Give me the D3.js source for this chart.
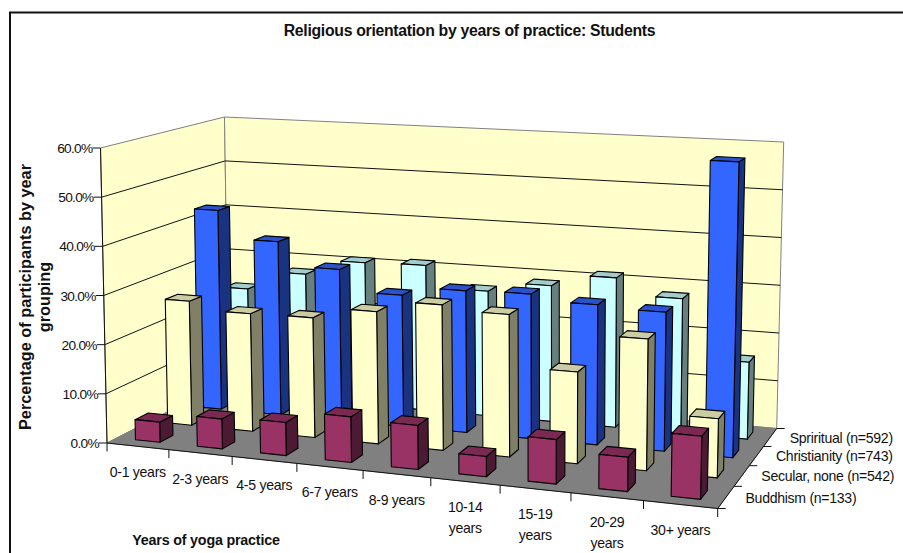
<!DOCTYPE html>
<html>
<head>
<meta charset="utf-8">
<script src="https://cdn.jsdelivr.net/npm/d3@7"></script>
<style>
	html,body{margin:0;padding:0;background:#fff;overflow:hidden}
	text{font-family:"Liberation Sans",Arial,sans-serif;fill:#111}
</style>
</head>
<body>
<div id="chart"></div>
<script>
var categories = [["0-1 years"],["2-3 years"],["4-5 years"],["6-7 years"],["8-9 years"],["10-14","years"],["15-19","years"],["20-29","years"],["30+ years"]]
var seriesNames = ["Buddhism (n=133)","Secular, none (n=542)","Christianity (n=743)","Spriritual (n=592)"]
var buddhism = [4.1,6.0,6.6,9.0,8.6,3.9,8.5,6.5,11.8]
var secular = [26.0,24.4,24.6,26.9,29.3,28.4,18.1,25.7,11.4]
var christianity = [42.9,37.0,32.0,27.5,29.4,29.7,28.5,28.0,59.0]
var spiritual = [23.3,27.5,30.9,31.2,26.6,28.7,31.3,27.9,15.8]
var yTicks = [0,10,20,30,40,50,60]

var faceColors = [
	{front:"#993366",side:"#4d1a33",top:"#7a2952"},
	{front:"#ffffcc",side:"#808066",top:"#cccca3"},
	{front:"#3366ff",side:"#1a3380",top:"#2952cc"},
	{front:"#ccffff",side:"#668080",top:"#a3cccc"}
]
var seriesValues = [buddhism,secular,christianity,spiritual]

var width = 903, height = 553

var svg = d3.select("#chart").append("svg")
	.attr("width",width)
	.attr("height",height)
	.style("display","block")

// maps the unit square onto a quad, corners in order (0,0),(1,0),(1,1),(0,1)
function quad_map(p0,p1,p2,p3){
	var sx = p0[0]-p1[0]+p2[0]-p3[0], sy = p0[1]-p1[1]+p2[1]-p3[1]
	var dx1 = p1[0]-p2[0], dx2 = p3[0]-p2[0], dy1 = p1[1]-p2[1], dy2 = p3[1]-p2[1]
	var den = dx1*dy2-dx2*dy1
	var g = (sx*dy2-dx2*sy)/den, h = (dx1*sy-sx*dy1)/den
	var a = p1[0]-p0[0]+g*p1[0], b = p3[0]-p0[0]+h*p3[0]
	var d = p1[1]-p0[1]+g*p1[1], e = p3[1]-p0[1]+h*p3[1]
	return function(u,v){
		var w = g*u+h*v+1
		return [(a*u+b*v+p0[0])/w,(d*u+e*v+p0[1])/w]
	}
}

// floor and the plane at the top of the value axis
var floorMap = quad_map([107,443],[717.7,508.5],[776.7,428.5],[228.5,380.5])
var roofMap = quad_map([100.5,148],[725,183],[783.7,142],[224.5,117])

var yScale = d3.scaleLinear().domain([0,60]).range([0,1])
var uScale = d3.scaleBand().domain(d3.range(categories.length)).range([0,1]).paddingInner(0.6).paddingOuter(0.3)
var vScale = d3.scaleBand().domain(d3.range(seriesNames.length)).range([0,1]).paddingInner(0.6).paddingOuter(0.3)

function project(u,v,val){
	var t = yScale(val)
	// evens out the category spacing a little
	var uw = u+0.05*u*(1-u)
	var f = floorMap(uw,v), r = roofMap(uw,v)
	return [f[0]+(r[0]-f[0])*t,f[1]+(r[1]-f[1])*t]
}

var line = d3.line()
function poly(pts){ return line(pts)+"Z" }

// walls and floor
var walls = svg.append("g")
walls.append("path")
	.attr("d",poly([project(0,0,0),project(0,1,0),project(0,1,60),project(0,0,60)]))
	.attr("fill","#ffffcc").attr("stroke","#808080").attr("stroke-width",1)
walls.append("path")
	.attr("d",poly([project(0,1,0),project(1,1,0),project(1,1,60),project(0,1,60)]))
	.attr("fill","#ffffcc").attr("stroke","#808080").attr("stroke-width",1)

yTicks.slice(1,-1).forEach(function(t){
	walls.append("path")
		.attr("d",line([project(0,0,t),project(0,1,t),project(1,1,t)]))
		.attr("fill","none").attr("stroke","#111").attr("stroke-width",1)
})

walls.append("path")
	.attr("d",poly([project(0,0,0),project(1,0,0),project(1,1,0),project(0,1,0)]))
	.attr("fill","#808080").attr("stroke","#808080")

walls.append("path")
	.attr("d",line([project(0,0,60),project(0,0,0),project(1,0,0)]))
	.attr("fill","none").attr("stroke","#111").attr("stroke-width",1)
walls.append("path")
	.attr("d",line([project(1,0,0),project(1,1,0)]))
	.attr("fill","none").attr("stroke","#111").attr("stroke-width",1)

// bars, back row first
var bars = svg.append("g")
d3.range(seriesNames.length).reverse().forEach(function(s){
	var v0 = vScale(s), v1 = v0+vScale.bandwidth()
	seriesValues[s].forEach(function(val,c){
		var u0 = uScale(c), u1 = u0+uScale.bandwidth()
		var colors = faceColors[s]
		var g = bars.append("g").attr("stroke","#000").attr("stroke-width",1.1).attr("stroke-linejoin","round")
		g.append("path")
			.attr("d",poly([project(u1,v0,0),project(u1,v1,0),project(u1,v1,val),project(u1,v0,val)]))
			.attr("fill",colors.side)
		g.append("path")
			.attr("d",poly([project(u0,v0,val),project(u1,v0,val),project(u1,v1,val),project(u0,v1,val)]))
			.attr("fill",colors.top)
		g.append("path")
			.attr("d",poly([project(u0,v0,0),project(u1,v0,0),project(u1,v0,val),project(u0,v0,val)]))
			.attr("fill",colors.front)
	})
})

// value axis
yTicks.forEach(function(t){
	var p = project(0,0,t)
	svg.append("line")
		.attr("x1",p[0]-8).attr("x2",p[0]).attr("y1",p[1]).attr("y2",p[1])
		.attr("stroke","#111")
	svg.append("text")
		.attr("x",p[0]-8).attr("y",p[1]+5)
		.attr("text-anchor","end")
		.attr("font-size",13.7)
		.attr("letter-spacing",-0.7)
		.text(d3.format(".1f")(t)+"%")
})

// category ticks and labels
d3.range(categories.length+1).forEach(function(i){
	var p = project(i/categories.length,0,0)
	svg.append("line")
		.attr("x1",p[0]).attr("x2",p[0]).attr("y1",p[1]).attr("y2",p[1]+8.5)
		.attr("stroke","#111")
})
categories.forEach(function(lines,i){
	var p = project((i+0.5)/categories.length,0,0)
	var label = svg.append("text")
		.attr("text-anchor","middle")
		.attr("font-size",14.1)
		.attr("letter-spacing",-0.3)
	lines.forEach(function(l,k){
		label.append("tspan")
			.attr("x",p[0])
			.attr("y",p[1]+30.5+k*21)
			.text(l)
	})
})

// depth ticks and series labels
d3.range(seriesNames.length+1).forEach(function(i){
	var p = project(1,i/seriesNames.length,0)
	svg.append("line")
		.attr("x1",p[0]).attr("x2",p[0]+8).attr("y1",p[1]).attr("y2",p[1])
		.attr("stroke","#111")
})
seriesNames.forEach(function(name,i){
	var p = project(1,(i+0.5)/seriesNames.length,0)
	svg.append("text")
		.attr("x",p[0]+19.5).attr("y",p[1]+5.5)
		.attr("font-size",14.1)
		.attr("letter-spacing",-0.3)
		.text(name)
})

// titles
svg.append("text")
	.attr("x",469.5).attr("y",35.5)
	.attr("text-anchor","middle")
	.attr("font-size",15.8)
	.attr("font-weight","bold")
	.attr("letter-spacing",-0.3)
	.text("Religious orientation by years of practice: Students")
svg.append("text")
	.attr("x",206).attr("y",545)
	.attr("text-anchor","middle")
	.attr("font-size",14.3)
	.attr("font-weight","bold")
	.attr("letter-spacing",-0.2)
	.text("Years of yoga practice")
var yTitle = svg.append("text")
	.attr("transform","translate(31,297) rotate(-90)")
	.attr("text-anchor","middle")
	.attr("font-size",16.3)
	.attr("font-weight","bold")
yTitle.append("tspan").attr("x",0).attr("y",0).text("Percentage of participants by year")
yTitle.append("tspan").attr("x",0).attr("y",19).text("grouping")

// chart frame, only the top and left edges fall inside the window
svg.append("path")
	.attr("d",line([[10,height],[10,12.5],[width,12.5]]))
	.attr("fill","none").attr("stroke","#111").attr("stroke-width",2)
</script>
</body>
</html>
